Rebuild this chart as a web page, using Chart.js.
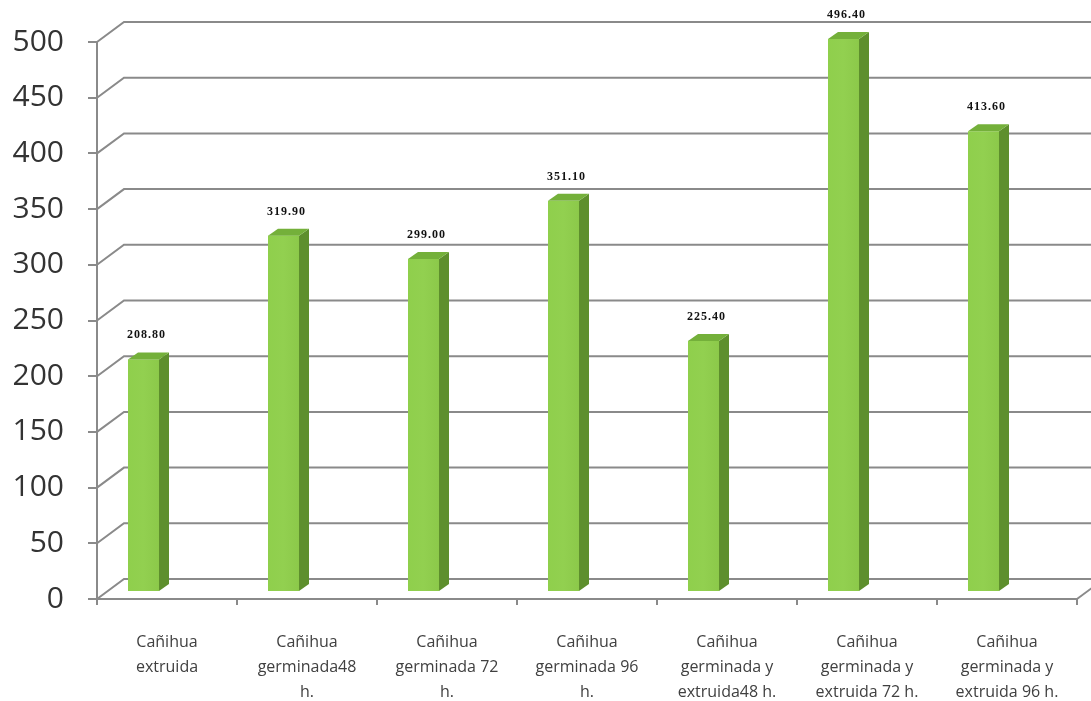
<!DOCTYPE html>
<html>
<head>
<meta charset="utf-8">
<script src="https://cdn.jsdelivr.net/npm/chart.js@4"></script>
<style>
  html, body { margin: 0; padding: 0; background: #fff; }
  #wrap { width: 1091px; height: 701px; }
</style>
</head>
<body>
<div id="wrap"><canvas id="chart"></canvas></div>
<script>
// Datos del gráfico
const categorias = [
    ['Cañihua', 'extruida'],
    ['Cañihua', 'germinada48', 'h.'],
    ['Cañihua', 'germinada 72', 'h.'],
    ['Cañihua', 'germinada 96', 'h.'],
    ['Cañihua', 'germinada y', 'extruida48 h.'],
    ['Cañihua', 'germinada y', 'extruida 72 h.'],
    ['Cañihua', 'germinada y', 'extruida 96 h.']
];
const valores = [208.8, 319.9, 299.0, 351.1, 225.4, 496.4, 413.6];
const etiquetas = ['208.80', '319.90', '299.00', '351.10', '225.40', '496.40', '413.60'];
const yMin = 0;
const yMax = 500;
const yPaso = 50;

// Estilo 3D
const GRIS = '#8a8a8a';
const FONDO_DX = 27, FONDO_DY = -20;   // profundidad de la pared
const BARRA_DX = 10, BARRA_DY = -7;    // profundidad de la barra
const BARRA_DESPLAZ = -23.5;           // barra desplazada respecto al centro
const VERDE = '#92d050', VERDE_LADO = '#5e8f2d', VERDE_TOPE = '#74b03a';

// Pared del fondo y piso
const paredPlugin = {
    id: 'pared',
    beforeDatasetsDraw(chart) {
        const { ctx, scales: { y }, chartArea } = chart;
        const x0 = chartArea.left;
        ctx.save();
        ctx.strokeStyle = GRIS;
        ctx.lineWidth = 2;
        y.ticks.forEach(t => {
            const py = y.getPixelForValue(t.value);
            ctx.beginPath();
            ctx.moveTo(x0, py);
            ctx.lineTo(x0 + FONDO_DX, py + FONDO_DY);
            ctx.lineTo(chart.width, py + FONDO_DY);
            ctx.stroke();
        });
        // esquina derecha del piso
        const pb = y.getPixelForValue(yMin);
        ctx.beginPath();
        ctx.moveTo(chartArea.right, pb);
        ctx.lineTo(chartArea.right + FONDO_DX, pb + FONDO_DY);
        ctx.stroke();
        ctx.restore();
    },
    afterDatasetsDraw(chart) {
        const { ctx } = chart;
        const meta = chart.getDatasetMeta(0);
        ctx.save();
        meta.data.forEach((bar, i) => {
            const w = bar.width;
            const L = bar.x + BARRA_DESPLAZ - w / 2;
            const R = L + w;
            const T = bar.y + BARRA_DY;
            const B = bar.base + BARRA_DY;
            // cara frontal
            const g = ctx.createLinearGradient(L, 0, R, 0);
            g.addColorStop(0, '#8fcf4c');
            g.addColorStop(0.5, VERDE);
            g.addColorStop(1, '#8cc94a');
            ctx.fillStyle = g;
            ctx.fillRect(L, T, w, B - T);
            // cara lateral
            ctx.fillStyle = VERDE_LADO;
            ctx.beginPath();
            ctx.moveTo(R, T);
            ctx.lineTo(R + BARRA_DX, T + BARRA_DY);
            ctx.lineTo(R + BARRA_DX, B + BARRA_DY);
            ctx.lineTo(R, B);
            ctx.closePath();
            ctx.fill();
            // cara superior
            ctx.fillStyle = VERDE_TOPE;
            ctx.beginPath();
            ctx.moveTo(L, T);
            ctx.lineTo(R, T);
            ctx.lineTo(R + BARRA_DX, T + BARRA_DY);
            ctx.lineTo(L + BARRA_DX, T + BARRA_DY);
            ctx.closePath();
            ctx.fill();
            // etiqueta de valor
            ctx.fillStyle = '#111';
            ctx.font = 'bold 12px "Liberation Serif"';
            ctx.letterSpacing = '1px';
            ctx.textAlign = 'center';
            ctx.textBaseline = 'middle';
            ctx.fillText(etiquetas[i], L + w / 2 + 3, T + BARRA_DY - 17);
        });
        ctx.restore();
    }
};

document.addEventListener('DOMContentLoaded', () => {
    const ctx = document.getElementById('chart').getContext('2d');
    new Chart(ctx, {
        type: 'bar',
        data: {
            labels: categorias,
            datasets: [{
                data: valores,
                backgroundColor: 'rgba(0,0,0,0)',
                borderWidth: 0,
                categoryPercentage: 1,
                barPercentage: 31 / 140
            }]
        },
        options: {
            responsive: true,
            maintainAspectRatio: false,
            animation: false,
            layout: { padding: { top: 41, right: 14, left: 0, bottom: 0 } },
            plugins: {
                legend: { display: false },
                tooltip: { enabled: false }
            },
            scales: {
                x: {
                    afterFit: s => { s.height = 102; },
                    grid: { drawOnChartArea: false, tickLength: 6, color: GRIS, lineWidth: 2 },
                    border: { color: GRIS, width: 2 },
                    ticks: {
                        color: '#404040',
                        padding: 25,
                        maxRotation: 0,
                        autoSkip: false,
                        font: { family: '"Open Sans"', size: 16, lineHeight: 25 / 16 }
                    }
                },
                y: {
                    min: yMin,
                    max: yMax,
                    afterFit: s => { s.width = 97; },
                    grid: { drawOnChartArea: false, tickLength: 9, color: GRIS, lineWidth: 2 },
                    border: { color: GRIS, width: 2 },
                    ticks: {
                        stepSize: yPaso,
                        color: '#333',
                        padding: 24,
                        font: { family: '"Open Sans"', size: 30 }
                    }
                }
            }
        },
        plugins: [paredPlugin]
    });
});
</script>
</body>
</html>
